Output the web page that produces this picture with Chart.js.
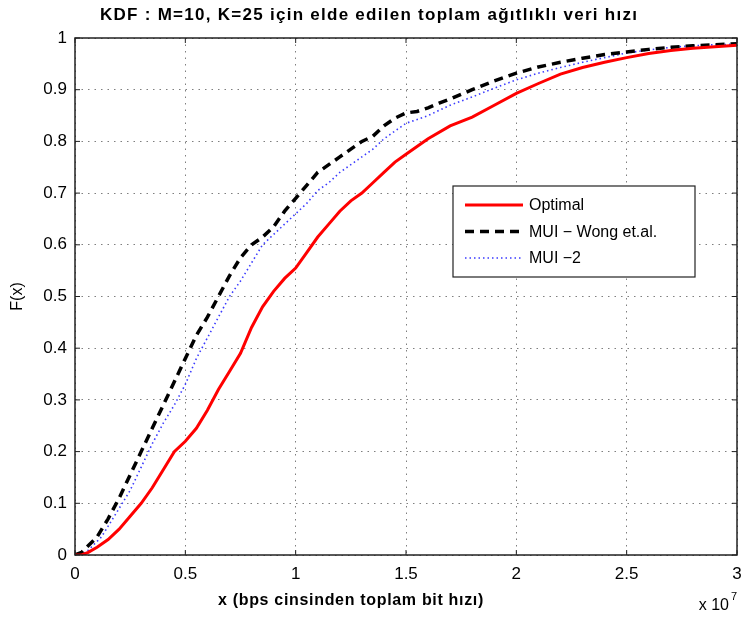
<!DOCTYPE html>
<html>
<head>
<meta charset="utf-8">
<script src="https://cdn.jsdelivr.net/npm/chart.js@4.4.0/dist/chart.umd.min.js"></script>
<style>
  html, body { margin: 0; padding: 0; background: #fff; }
  #wrap { width: 741px; height: 618px; }
</style>
</head>
<body>
<div id="wrap"><canvas id="cdf"></canvas></div>
<script>
// values, x in units of 10^7 bps
const optimalX = [0, 0.03, 0.06, 0.1, 0.15, 0.2, 0.25, 0.3, 0.35, 0.4, 0.45, 0.5, 0.55, 0.6, 0.65, 0.7, 0.75, 0.8, 0.85, 0.9, 0.95, 1.0, 1.05, 1.1, 1.15, 1.2, 1.25, 1.3, 1.35, 1.4, 1.45, 1.5, 1.55, 1.6, 1.7, 1.8, 1.9, 2.0, 2.1, 2.2, 2.3, 2.4, 2.5, 2.6, 2.7, 2.8, 2.9, 3.0];
const optimalY = [0, 0, 0.005, 0.015, 0.03, 0.05, 0.075, 0.10, 0.13, 0.165, 0.20, 0.22, 0.245, 0.28, 0.32, 0.355, 0.39, 0.44, 0.48, 0.51, 0.535, 0.555, 0.585, 0.615, 0.64, 0.665, 0.685, 0.70, 0.72, 0.74, 0.76, 0.775, 0.79, 0.805, 0.83, 0.847, 0.87, 0.893, 0.912, 0.93, 0.943, 0.953, 0.962, 0.97, 0.976, 0.98, 0.983, 0.986];

const wongX = [0, 0.03, 0.1, 0.15, 0.2, 0.25, 0.3, 0.35, 0.4, 0.45, 0.5, 0.55, 0.6, 0.65, 0.7, 0.75, 0.8, 0.85, 0.9, 0.95, 1.0, 1.05, 1.1, 1.15, 1.2, 1.25, 1.3, 1.35, 1.4, 1.45, 1.5, 1.55, 1.6, 1.65, 1.7, 1.8, 1.9, 2.0, 2.1, 2.2, 2.3, 2.4, 2.5, 2.6, 2.7, 2.8, 2.9, 3.0];
const wongY = [0, 0.005, 0.035, 0.07, 0.11, 0.155, 0.20, 0.245, 0.29, 0.335, 0.38, 0.425, 0.46, 0.50, 0.54, 0.575, 0.60, 0.615, 0.635, 0.665, 0.69, 0.715, 0.74, 0.755, 0.77, 0.785, 0.80, 0.81, 0.83, 0.845, 0.855, 0.858, 0.865, 0.874, 0.882, 0.90, 0.917, 0.932, 0.944, 0.953, 0.961, 0.968, 0.973, 0.978, 0.982, 0.985, 0.987, 0.989];

const mui2X = [0, 0.05, 0.12, 0.2, 0.25, 0.3, 0.35, 0.4, 0.45, 0.5, 0.55, 0.6, 0.65, 0.7, 0.75, 0.8, 0.85, 0.9, 0.95, 1.0, 1.05, 1.1, 1.15, 1.2, 1.25, 1.3, 1.35, 1.4, 1.45, 1.5, 1.6, 1.7, 1.8, 1.9, 2.0, 2.1, 2.2, 2.3, 2.4, 2.5, 2.6, 2.7, 2.8, 2.9, 3.0];
const mui2Y = [0, 0.005, 0.035, 0.09, 0.125, 0.17, 0.215, 0.255, 0.29, 0.33, 0.38, 0.42, 0.46, 0.50, 0.53, 0.565, 0.60, 0.62, 0.64, 0.66, 0.68, 0.705, 0.72, 0.74, 0.755, 0.77, 0.785, 0.805, 0.82, 0.835, 0.85, 0.87, 0.886, 0.903, 0.919, 0.932, 0.943, 0.953, 0.962, 0.971, 0.977, 0.982, 0.985, 0.987, 0.988];

const seriesLabels = ['Optimal', 'MUI \u2212 Wong et.al.', 'MUI \u22122'];
const xTicks = [0, 0.5, 1, 1.5, 2, 2.5, 3];
const yTicks = [0, 0.1, 0.2, 0.3, 0.4, 0.5, 0.6, 0.7, 0.8, 0.9, 1];

const titleText = 'KDF : M=10, K=25 için elde edilen toplam ağıtlıklı veri hızı';
const xLabel = 'x (bps cinsinden toplam bit hızı)';
const yLabel = 'F(x)';

const toPoints = (xs, ys) => xs.map((x, i) => ({ x: x, y: ys[i] }));
const FONT = "'Liberation Sans', Arial, sans-serif";

// spread a text to a given width, like the old bitmap font of the figure
function spacedText(ctx, text, cx, cy, width) {
    ctx.letterSpacing = '0px';
    const w = ctx.measureText(text).width;
    const sp = Math.max(0, (width - w) / text.length);
    ctx.letterSpacing = sp.toFixed(2) + 'px';
    ctx.textAlign = 'left';
    ctx.fillText(text, cx - width / 2, cy);
    ctx.letterSpacing = '0px';
}

// box, inward ticks, in-axes legend and axis texts (MATLAB look)
const matlabFrame = {
    id: 'matlabFrame',
    afterDraw(chart) {
        const { ctx, chartArea: a, scales } = chart;
        ctx.save();
        ctx.strokeStyle = '#222';
        ctx.lineWidth = 1.5;
        ctx.strokeRect(a.left, a.top, a.right - a.left, a.bottom - a.top);

        ctx.lineWidth = 1;
        const tl = 5;
        ctx.beginPath();
        xTicks.forEach(v => {
            const px = scales.x.getPixelForValue(v);
            ctx.moveTo(px, a.bottom); ctx.lineTo(px, a.bottom - tl);
            ctx.moveTo(px, a.top); ctx.lineTo(px, a.top + tl);
        });
        yTicks.forEach(v => {
            const py = scales.y.getPixelForValue(v);
            ctx.moveTo(a.left, py); ctx.lineTo(a.left + tl, py);
            ctx.moveTo(a.right, py); ctx.lineTo(a.right - tl, py);
        });
        ctx.stroke();

        // legend
        const lx = a.left + 378, ly = a.top + 148, lw = 242, lh = 91;
        ctx.fillStyle = '#fff';
        ctx.fillRect(lx, ly, lw, lh);
        ctx.strokeStyle = '#222';
        ctx.lineWidth = 1.2;
        ctx.strokeRect(lx, ly, lw, lh);
        chart.data.datasets.forEach((ds, i) => {
            const yy = ly + 19 + i * 26.5;
            ctx.save();
            ctx.strokeStyle = ds.borderColor;
            ctx.lineWidth = ds.borderWidth;
            ctx.setLineDash(ds.borderDash || []);
            ctx.beginPath();
            ctx.moveTo(lx + 12, yy);
            ctx.lineTo(lx + 70, yy);
            ctx.stroke();
            ctx.restore();
            ctx.fillStyle = '#000';
            ctx.font = '16px ' + FONT;
            ctx.textAlign = 'left';
            ctx.textBaseline = 'middle';
            ctx.fillText(ds.label, lx + 76, yy + 1);
        });

        // title and axis labels
        ctx.fillStyle = '#000';
        ctx.textBaseline = 'middle';
        ctx.font = 'bold 17px ' + FONT;
        spacedText(ctx, titleText, 369, 15, 538);

        ctx.font = 'bold 16px ' + FONT;
        spacedText(ctx, xLabel, 351, a.bottom + 46, 266);

        ctx.font = '16px ' + FONT;
        ctx.textAlign = 'center';
        ctx.save();
        ctx.translate(18, (a.top + a.bottom) / 2);
        ctx.rotate(-Math.PI / 2);
        ctx.fillText(yLabel, 0, 0);
        ctx.restore();

        ctx.font = '16px ' + FONT;
        ctx.textAlign = 'right';
        ctx.fillText('x 10', a.right - 8, a.bottom + 51);
        ctx.font = '11px ' + FONT;
        ctx.textAlign = 'left';
        ctx.fillText('7', a.right - 6, a.bottom + 42);
        ctx.restore();
    }
};

const gridStyle = {
    color: 'rgba(0,0,0,0.5)',
    lineWidth: 1,
    drawTicks: false
};
const borderStyle = { display: false, dash: [1.5, 5] };

new Chart(document.getElementById('cdf'), {
    type: 'line',
    data: {
        datasets: [
            {
                label: seriesLabels[0],
                data: toPoints(optimalX, optimalY),
                borderColor: '#ff0000',
                borderWidth: 3,
                pointRadius: 0,
                tension: 0
            },
            {
                label: seriesLabels[1],
                data: toPoints(wongX, wongY),
                borderColor: '#000000',
                borderWidth: 3.5,
                borderDash: [9, 6],
                pointRadius: 0,
                tension: 0
            },
            {
                label: seriesLabels[2],
                data: toPoints(mui2X, mui2Y),
                borderColor: '#3a3aff',
                borderWidth: 1.6,
                borderDash: [1.5, 3],
                pointRadius: 0,
                tension: 0
            }
        ]
    },
    options: {
        responsive: true,
        maintainAspectRatio: false,
        animation: false,
        layout: { padding: { left: 0, right: 4, top: 38, bottom: 0 } },
        plugins: {
            legend: { display: false },
            tooltip: { enabled: false },
            title: { display: false }
        },
        scales: {
            x: {
                type: 'linear',
                min: 0,
                max: 3,
                afterBuildTicks: s => { s.ticks = xTicks.map(v => ({ value: v })); },
                afterFit: s => { s.height = 63; s.paddingLeft = 0; s.paddingRight = 0; },
                grid: gridStyle,
                border: borderStyle,
                ticks: {
                    color: '#000',
                    padding: 9,
                    maxRotation: 0,
                    font: { family: FONT, size: 17 },
                    callback: v => String(Number(v.toFixed(1)))
                }
            },
            y: {
                min: 0,
                max: 1,
                afterBuildTicks: s => { s.ticks = yTicks.map(v => ({ value: v })); },
                afterFit: s => { s.width = 75; s.paddingTop = 0; s.paddingBottom = 0; },
                grid: gridStyle,
                border: borderStyle,
                ticks: {
                    color: '#000',
                    padding: 8,
                    font: { family: FONT, size: 17 },
                    callback: v => String(Number(v.toFixed(1)))
                }
            }
        }
    },
    plugins: [matlabFrame]
});
</script>
</body>
</html>
